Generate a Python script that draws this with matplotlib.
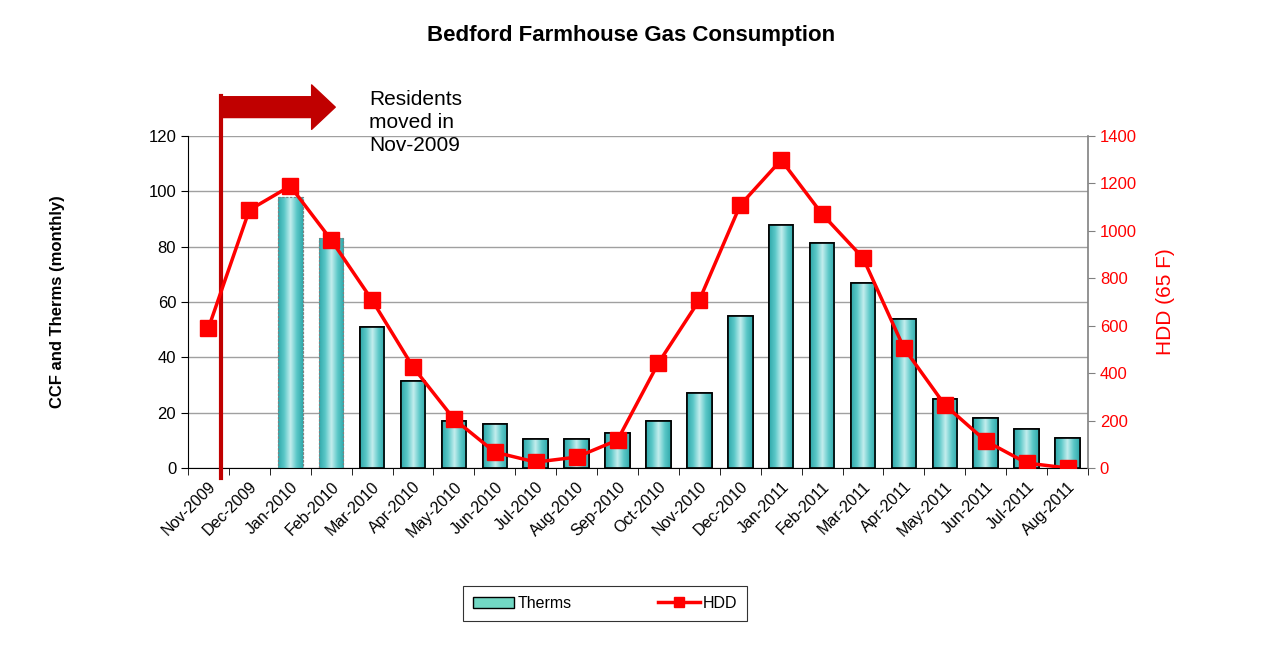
import numpy as np
import matplotlib.pyplot as plt
from matplotlib.colors import LinearSegmentedColormap
from matplotlib.lines import Line2D
from matplotlib.patches import Patch

plt.rcParams['font.family'] = ['Liberation Sans', 'DejaVu Sans']

months = ['Nov-2009', 'Dec-2009', 'Jan-2010', 'Feb-2010', 'Mar-2010', 'Apr-2010',
          'May-2010', 'Jun-2010', 'Jul-2010', 'Aug-2010', 'Sep-2010', 'Oct-2010',
          'Nov-2010', 'Dec-2010', 'Jan-2011', 'Feb-2011', 'Mar-2011', 'Apr-2011',
          'May-2011', 'Jun-2011', 'Jul-2011', 'Aug-2011']
therms = [0, 0, 98, 83, 51, 31.4, 17, 16, 10.5, 10.5, 12.6, 17,
          27, 55, 88, 81.3, 67, 54, 25, 18, 14, 11]
hdd = [590, 1088, 1189, 962, 708, 426, 207, 67, 25, 46, 118, 443,
       708, 1109, 1299, 1071, 886, 506, 266, 114, 21, 0]
estimated = ['Jan-2010', 'Feb-2010']

fig = plt.figure(figsize=(12.77, 6.59), dpi=100)
ax = fig.add_axes([0.1472, 0.2898, 0.7048, 0.5038])
ax2 = ax.twinx()

x = np.arange(len(months))
teal = LinearSegmentedColormap.from_list('teal', ['#30a9ab', '#5cc8c8', '#c4eeee', '#5cc8c8', '#30a9ab'])
grad = np.linspace(0, 1, 64).reshape(1, -1)

bars = ax.bar(x, therms, width=0.6, color='#5cc9c9', edgecolor='black', linewidth=1.2, zorder=2)
for b, m in zip(bars, months):
    if b.get_height() <= 0:
        b.set_visible(False)
        continue
    if m in estimated:
        b.set_edgecolor('#808080')
        b.set_linestyle((0, (2, 1.5)))
        b.set_linewidth(0.8)
    im = ax.imshow(grad, cmap=teal, aspect='auto', zorder=2.1,
                   extent=[b.get_x(), b.get_x() + b.get_width(), 0, b.get_height()])
    im.set_clip_path(b)
    edge = plt.Rectangle((b.get_x(), 0), b.get_width(), b.get_height(), fill=False,
                         edgecolor=b.get_edgecolor(), linestyle=b.get_linestyle(),
                         linewidth=b.get_linewidth(), zorder=2.2)
    ax.add_patch(edge)

ax.set_xlim(-0.5, len(months) - 0.5)
ax.set_ylim(0, 120)
ax.set_yticks(range(0, 121, 20))
ax.grid(axis='y', color='#a0a0a0', linewidth=1, zorder=0)
ax.set_axisbelow(True)
ax.set_xticks(x)
ax.set_xticklabels(months, rotation=45, ha='right', rotation_mode='anchor', fontsize=11.5)
ax.set_xticks(np.arange(-0.5, len(months), 1), minor=True)
ax.tick_params(axis='x', which='major', length=0, pad=8)
ax.tick_params(axis='x', which='minor', length=5, direction='out')
ax.tick_params(axis='y', labelsize=12, length=5)
ax.set_ylabel('CCF and Therms (monthly)', fontsize=12, fontweight='bold', labelpad=60)
ax.spines['top'].set_visible(False)
ax.spines['right'].set_visible(False)

ax2.plot(x, hdd, color='#ff0000', linewidth=2.5, marker='s', markersize=11.5, zorder=3)
ax2.set_ylim(0, 1400)
ax2.set_yticks(range(0, 1401, 200))
ax2.tick_params(axis='y', colors='#ff0000', labelcolor='#ff0000', labelsize=12, length=5)
ax2.tick_params(axis='y', color='#808080')
ax2.set_ylabel('HDD (65 F)', color='#ff0000', fontsize=15, labelpad=14)
ax2.spines['top'].set_visible(False)
ax2.spines['left'].set_visible(False)
ax2.spines['bottom'].set_visible(False)
ax2.spines['right'].set_color('#808080')
ax2.spines['right'].set_linewidth(1.2)

# move-in marker
ax.plot([0.3, 0.3], [-0.03, 1.12], transform=ax.get_xaxis_transform(),
        color='#c00000', linewidth=3, clip_on=False, zorder=4)
ax.annotate('', xy=(3.1, 1.087), xytext=(0.3, 1.087),
            xycoords=('data', 'axes fraction'), textcoords=('data', 'axes fraction'),
            arrowprops=dict(arrowstyle='simple,head_width=32,head_length=17,tail_width=15',
                            mutation_scale=1, color='#c00000', shrinkA=0, shrinkB=0),
            annotation_clip=False)
ax.text(3.93, 1.14, 'Residents\nmoved in\nNov-2009', transform=ax.get_xaxis_transform(),
        fontsize=15, va='top', ha='left', linespacing=1.27)

fig.suptitle('Bedford Farmhouse Gas Consumption', fontsize=16, fontweight='bold', x=0.494, y=0.962)

handles = [Patch(facecolor='#72d8c4', edgecolor='black', label='Therms'),
           Line2D([0], [0], color='#ff0000', linewidth=2.5, marker='s', markersize=7, label='HDD')]
leg = fig.legend(handles=handles, loc='center', ncol=2, mode='expand',
                 bbox_to_anchor=(463 / 1277, 1 - 622 / 659, 284 / 1277, 37 / 659),
                 fancybox=False, edgecolor='black', fontsize=11.5, handlelength=2.6,
                 borderpad=0.6, handletextpad=0.2, borderaxespad=0)
leg.get_frame().set_linewidth(0.8)

fig.savefig('out.png', dpi=100)
